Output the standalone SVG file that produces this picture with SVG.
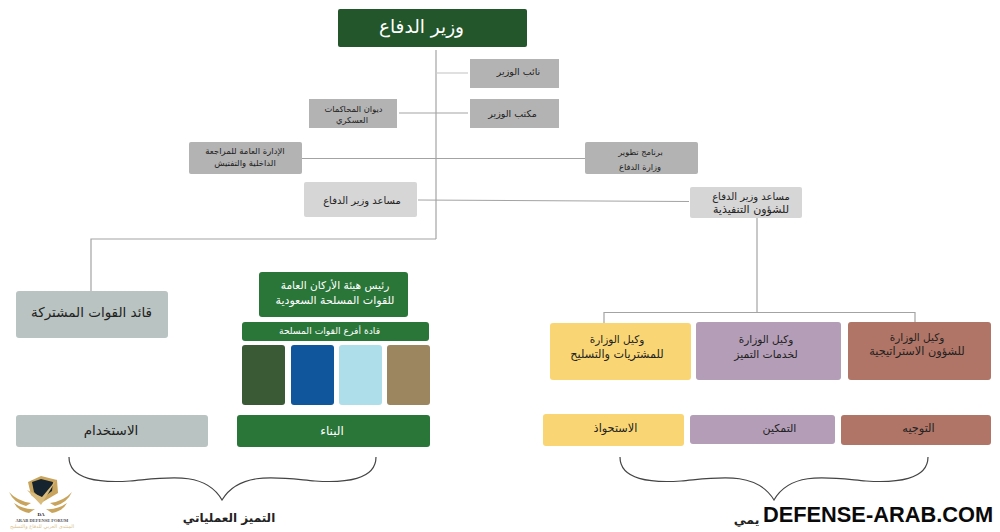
<svg xmlns="http://www.w3.org/2000/svg" width="1000" height="532" viewBox="0 0 1000 532">
<style>
text{font-family:"DejaVu Sans",sans-serif;text-anchor:middle;direction:rtl;fill:#222}
.w{fill:#fff}
.c line,.c polyline{fill:none;stroke:#a3a3a3;stroke-width:1.2}
.b{fill:none;stroke:#444;stroke-width:1.2}
</style>
<rect width="1000" height="532" fill="#fff"/>
<g id="connectors" class="c">
<line x1="436" y1="50" x2="436" y2="239"/>
<polyline points="436,239 91,239 91,291"/>
<line x1="436" y1="73" x2="468" y2="73" style="stroke:#ccc"/>
<line x1="399" y1="113" x2="468" y2="113"/>
<line x1="302" y1="158.500" x2="585" y2="158.500"/>
<line x1="418" y1="200" x2="689" y2="201.500"/>
<line x1="757" y1="218" x2="757" y2="312"/>
<polyline points="604,323 604,312.500 915,312.500 915,322"/>
</g>
<g id="minister"><rect x="338" y="9" width="189" height="38" rx="2" fill="#23572b"/><text class="w" x="421.500" y="33" font-size="18.500">وزير الدفاع</text></g>
<g id="deputy"><rect x="470" y="59" width="89" height="29" fill="#b3b3b3"/><text x="518.500" y="75" font-size="9.500">نائب الوزير</text></g>
<g id="office"><rect x="470" y="99" width="89" height="29" fill="#b3b3b3"/><text x="512.500" y="117" font-size="9.500">مكتب الوزير</text></g>
<g id="court"><rect x="309" y="99" width="88" height="29" fill="#b3b3b3"/><text x="353.500" y="112" font-size="8.300">ديوان المحاكمات</text><text x="352" y="123" font-size="8.300">العسكري</text></g>
<g id="audit"><rect x="189" y="142" width="113" height="32" rx="2" fill="#b3b3b3"/><text x="245" y="154" font-size="8.500">الإدارة العامة للمراجعة</text><text x="245" y="166" font-size="8.500">الداخلية والتفتيش</text></g>
<g id="program"><rect x="585" y="142" width="113" height="32" rx="2" fill="#b3b3b3"/><text x="640.500" y="155" font-size="8.300">برنامج تطوير</text><text x="640" y="170" font-size="8.300">وزارة الدفاع</text></g>
<g id="assistant"><rect x="304" y="182" width="113" height="35" rx="2" fill="#d6d6d6"/><text x="362" y="204" font-size="10">مساعد وزير الدفاع</text></g>
<g id="assistant-exec"><rect x="690" y="187" width="112" height="31" rx="2" fill="#d6d6d6"/><text x="751" y="200" font-size="10">مساعد وزير الدفاع</text><text x="751" y="213" font-size="11">للشؤون التنفيذية</text></g>
<g id="joint"><rect x="16" y="291" width="152" height="47" rx="3" fill="#b9c3c1"/><text x="91.500" y="317" font-size="13.500">قائد القوات المشتركة</text></g>
<g id="chief"><rect x="259" y="272" width="149" height="45" rx="3" fill="#2a7639"/><text class="w" x="335" y="289" font-size="10.600">رئيس هيئة الأركان العامة</text><text class="w" x="335" y="304" font-size="11">للقوات المسلحة السعودية</text></g>
<g id="branches"><rect x="242" y="322" width="187" height="19" rx="3" fill="#2a7639"/><text class="w" x="329.500" y="334" font-size="9.200">قادة أفرع القوات المسلحة</text></g>
<g id="army"><rect x="242" y="345" width="43" height="60" rx="3" fill="#3a5a36"/></g>
<g id="navy"><rect x="291" y="345" width="43" height="60" rx="3" fill="#10569c"/></g>
<g id="air"><rect x="339" y="345" width="43" height="60" rx="3" fill="#aedeea"/></g>
<g id="land"><rect x="387" y="345" width="43" height="60" rx="3" fill="#9c865f"/></g>
<g id="build"><rect x="237" y="415" width="193" height="32" rx="3" fill="#2a7639"/><text class="w" x="332" y="435" font-size="12">البناء</text></g>
<g id="employ"><rect x="16" y="415" width="192" height="32" rx="3" fill="#b9c3c1"/><text x="111" y="435" font-size="13.500">الاستخدام</text></g>
<g id="u-acq"><rect x="550" y="323" width="141" height="57" rx="3" fill="#f9d673"/><text x="617" y="343" font-size="10.500">وكيل الوزارة</text><text x="617" y="358" font-size="11.200">للمشتريات والتسليح</text></g>
<g id="u-serv"><rect x="696" y="322" width="145" height="58" rx="3" fill="#b49db7"/><text x="766" y="343" font-size="10.500">وكيل الوزارة</text><text x="766" y="358" font-size="10.800">لخدمات التميز</text></g>
<g id="u-strat"><rect x="848" y="322" width="143" height="58" rx="3" fill="#b07566"/><text x="917" y="341" font-size="10.500">وكيل الوزارة</text><text x="917" y="355" font-size="11.300">للشؤون الاستراتيجية</text></g>
<g id="acq"><rect x="543" y="414" width="141" height="32" rx="3" fill="#f9d673"/><text x="615.500" y="432" font-size="11.300">الاستحواذ</text></g>
<g id="enable"><rect x="690" y="415" width="145" height="29" rx="3" fill="#b49db7"/><text x="779.500" y="432" font-size="11">التمكين</text></g>
<g id="direct"><rect x="841" y="415" width="150" height="30" rx="3" fill="#b07566"/><text x="918.500" y="432" font-size="11.300">التوجيه</text></g>
<path id="brace-left" class="b" d="M69 457C69 480 100 483 130 481C165 478 205 470 222 500C240 470 280 478 315 481C345 483 376 480 376 457"/>
<path id="brace-right" class="b" d="M620 457C620 480 651 483 681 481C716 478 756 470 774 500C791 470 831 478 866 481C896 483 928 480 928 457"/>
<text x="229" y="522" font-size="12" font-weight="bold" fill="#111">التميز العملياتي</text>
<text x="878" y="522" font-size="21.800" font-weight="bold" style="font-family:'Liberation Sans',sans-serif;direction:ltr;fill:#0a0a0a">DEFENSE-ARAB.COM</text>
<text x="746.500" y="524" font-size="12.500" font-weight="bold" fill="#111">يمي</text>
<g id="logo">
<path d="M28 482L41 476L57 480L58 493L41 503L31 495Z" fill="#c9a45c"/>
<path d="M32 482L41 479L53 482L52 491L41 499L34 492Z" fill="#15242f"/>
<path d="M27 490L41 505L57 479L42 497Z" fill="#d9bb7c"/>
<path d="M9 492Q17 501 31 503L26 506Q14 503 9 492Z" fill="#c9a45c"/>
<path d="M72 492Q64 501 50 503L55 506Q67 503 72 492Z" fill="#c9a45c"/>
<path d="M14 503Q24 510 35 509L29 513Q18 511 14 503Z" fill="#c9a45c"/>
<path d="M67 503Q57 510 46 509L52 513Q63 511 67 503Z" fill="#c9a45c"/>
<text x="41" y="516" font-size="5" font-weight="bold" style="font-family:'Liberation Serif',serif;direction:ltr">DA</text>
<text x="42" y="521.500" font-size="4.500" font-weight="bold" style="font-family:'Liberation Serif',serif;direction:ltr;fill:#555">ARAB DEFENSE FORUM</text>
<text x="42" y="528" font-size="5" style="fill:#d9c08a">المنتدى العربي للدفاع والتسليح</text>
</g>
</svg>
